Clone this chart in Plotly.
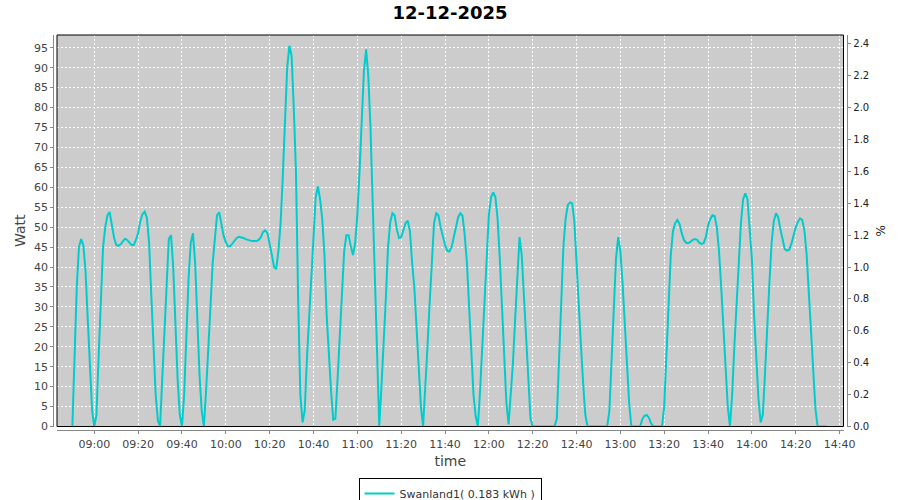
import pandas as pd
import plotly.graph_objects as go

title_text = "12-12-2025"
series_name = "Swanland1( 0.183 kWh )"
x_title = "time"
y_title = "Watt"
y2_title = "%"

# one reading per minute, starting at 08:50
start_time = "2025-12-12 08:50"
watt = [
    # 08:50 - 08:59
    0, 21, 35, 45, 47, 45.5, 39, 27, 14, 4,
    # 09:00 - 09:09
    0, 3, 18, 33, 45, 50, 53, 53.8, 50.2, 47.4,
    # 09:10 - 09:19
    45.6, 45.3, 45.7, 46.4, 47.1, 46.8, 46.1, 45.5, 45.5, 46.8,
    # 09:20 - 09:29
    48.6, 51.5, 53.3, 53.9, 52.3, 46, 33, 20, 8, 1.5,
    # 09:30 - 09:39
    0, 12, 24, 38, 47, 48, 40, 26, 12, 3,
    # 09:40 - 09:49
    0, 8, 22, 37, 46, 48.5, 41, 25, 13, 4,
    # 09:50 - 09:59
    0, 9, 18, 30, 41, 48, 53, 53.7, 50.5, 47.8,
    # 10:00 - 10:09
    46.2, 45.2, 45.2, 46, 46.6, 47.3, 47.6, 47.5, 47.3, 47,
    # 10:10 - 10:19
    46.8, 46.6, 46.5, 46.5, 46.5, 46.8, 47.5, 48.8, 49.2, 48.5,
    # 10:20 - 10:29
    46, 43, 40, 39.5, 44, 51, 63, 79, 90, 95.5,
    # 10:30 - 10:39
    93, 80, 64, 32, 8, 1, 4, 17, 28, 36,
    # 10:40 - 10:49
    48, 57.5, 60.2, 57, 52, 43, 28, 18, 9, 1.7,
    # 10:50 - 10:59
    2, 12, 23, 32, 44, 48, 48, 45.3, 43, 46,
    # 11:00 - 11:09
    53, 64, 79, 89, 94.6, 88, 75, 56, 36, 16,
    # 11:10 - 11:19
    0, 10, 20, 32, 45, 51.2, 53.5, 53, 49.5, 47.3,
    # 11:20 - 11:29
    47.5, 49, 51, 51.6, 49, 41, 35, 25, 13, 5,
    # 11:30 - 11:39
    0, 9, 20, 31, 42, 51, 53.5, 53, 50, 47.5,
    # 11:40 - 11:49
    45.5, 44.1, 43.9, 45, 47.3, 50, 52.5, 53.5, 52.8, 48,
    # 11:50 - 11:59
    41, 30, 17, 8, 2.5, 0, 9, 20, 32, 44,
    # 12:00 - 12:09
    53, 57.5, 58.7, 57.5, 52, 42, 29, 17, 6, 0.5,
    # 12:10 - 12:19
    8, 16, 27, 38, 47.5, 43, 33, 21, 10, 2,
    # 12:20 - 12:29
    0, 0, 0, 0, 0, 0, 0, 0, 0, 0,
    # 12:30 - 12:39
    0, 2, 18, 31, 45, 52, 55.5, 56.2, 56, 51.5,
    # 12:40 - 12:49
    41, 28, 20.5, 11, 3, 0, 0, 0, 0, 0,
    # 12:50 - 12:59
    0, 0, 0, 0, 0, 4, 16.7, 31, 42, 47.5,
    # 13:00 - 13:09
    44, 36, 25, 15, 6, 0, 0, 0, 0, 0,
    # 13:10 - 13:19
    1.8, 2.7, 2.9, 2.2, 0.8, 0, 0, 0, 0, 0,
    # 13:20 - 13:29
    5, 18, 32, 43, 49, 51, 51.8, 50.8, 48.5, 46.8,
    # 13:30 - 13:39
    46.1, 46, 46.3, 46.8, 47, 46.8, 46.1, 45.8, 46, 47.5,
    # 13:40 - 13:49
    50.4, 52, 53, 52.8, 50, 44, 35, 25, 14, 5,
    # 13:50 - 13:59
    0, 8, 20, 31, 41.5, 51, 57, 58.5, 57, 50,
    # 14:00 - 14:09
    42, 28, 16, 7, 1, 3, 13.4, 26, 36, 46,
    # 14:10 - 14:19
    51.5, 53.5, 52.5, 49.5, 46.5, 44.5, 44.1, 44.3, 45.8, 48,
    # 14:20 - 14:29
    50, 51.3, 52.2, 51.8, 49, 43, 33.5, 24.5, 14, 4.5,
    # 14:30 - 14:34
    0, 0, 0, 0, 0,
]
times = pd.date_range(start_time, periods=len(watt), freq="1min")

x_range = ["2025-12-12 08:42:59", "2025-12-12 14:41:48"]
x_tick0 = "2025-12-12 09:00"
watt_range = [0, 98.2]
pct_range = [0, 2.455]

LINE_COLOR = "#00cccc"
FONT = "DejaVu Sans"

fig = go.Figure()
fig.add_trace(go.Scatter(
    x=times, y=watt, mode="lines", name=series_name,
    line=dict(color=LINE_COLOR, width=2),
))
fig.add_trace(go.Scatter(x=[], y=[], yaxis="y2", showlegend=False, hoverinfo="skip"))

grid = dict(showgrid=True, gridcolor="white", griddash="2px,2px", gridwidth=1)

fig.update_layout(
    width=900, height=500,
    margin=dict(l=40, r=40, t=35, b=60, autoexpand=False),
    paper_bgcolor="white",
    plot_bgcolor="#cccccc",
    font=dict(family=FONT, color="#444444"),
    title=dict(text=title_text, x=0.5, xref="paper", xanchor="center",
               y=1 - 13 / 500, yref="container", yanchor="middle",
               font=dict(family=FONT, size=18, color="black", weight="bold")),
    xaxis=dict(
        type="date", range=x_range, domain=[17 / 820, 803.5 / 820],
        anchor="free", position=9.7 / 405,
        tick0=x_tick0, dtick=20 * 60 * 1000, tickformat="%H:%M",
        showline=True, linecolor="#888888", linewidth=1,
        ticks="outside", ticklen=3, tickcolor="#888888",
        tickfont=dict(family=FONT, size=11, color="#444444"),
        title=dict(text=x_title, font=dict(family=FONT, size=14, color="#444444"), standoff=6),
        zeroline=False, automargin=False, **grid,
    ),
    yaxis=dict(
        range=watt_range, domain=[13.5 / 405, 1], dtick=5,
        anchor="free", position=13.3 / 820,
        showline=True, linecolor="#888888", linewidth=1,
        ticks="outside", ticklen=3, tickcolor="#888888",
        tickfont=dict(family=FONT, size=11, color="#444444"),
        title=dict(text=y_title, font=dict(family=FONT, size=14, color="#444444"), standoff=4),
        zeroline=False, automargin=False, **grid,
    ),
    yaxis2=dict(
        range=pct_range, dtick=0.2, tickformat=".1f",
        overlaying="y", side="right", anchor="free", position=807.3 / 820,
        showline=True, linecolor="#888888", linewidth=1,
        ticks="outside", ticklen=3, tickcolor="#888888",
        tickfont=dict(family=FONT, size=10, color="#222222"),
        title=dict(text=y2_title, font=dict(family=FONT, size=12, color="#222222"), standoff=8),
        showgrid=False, zeroline=False, automargin=False,
    ),
    showlegend=True,
    legend=dict(
        orientation="h", x=0.5, xanchor="center", xref="paper",
        y=-38 / 405, yanchor="top", yref="paper",
        bordercolor="black", borderwidth=1, bgcolor="white",
        font=dict(family=FONT, size=11, color="#333333"),
        itemwidth=30,
    ),
    shapes=[dict(type="rect", xref="x domain", yref="y domain", x0=0, x1=1, y0=0, y1=1,
                 line=dict(color="black", width=1), layer="above")],
)

fig.write_html(
    "out.html",
    config={"displayModeBar": False},
    post_script="document.body.style.margin='0';document.body.style.overflow='hidden';",
)
